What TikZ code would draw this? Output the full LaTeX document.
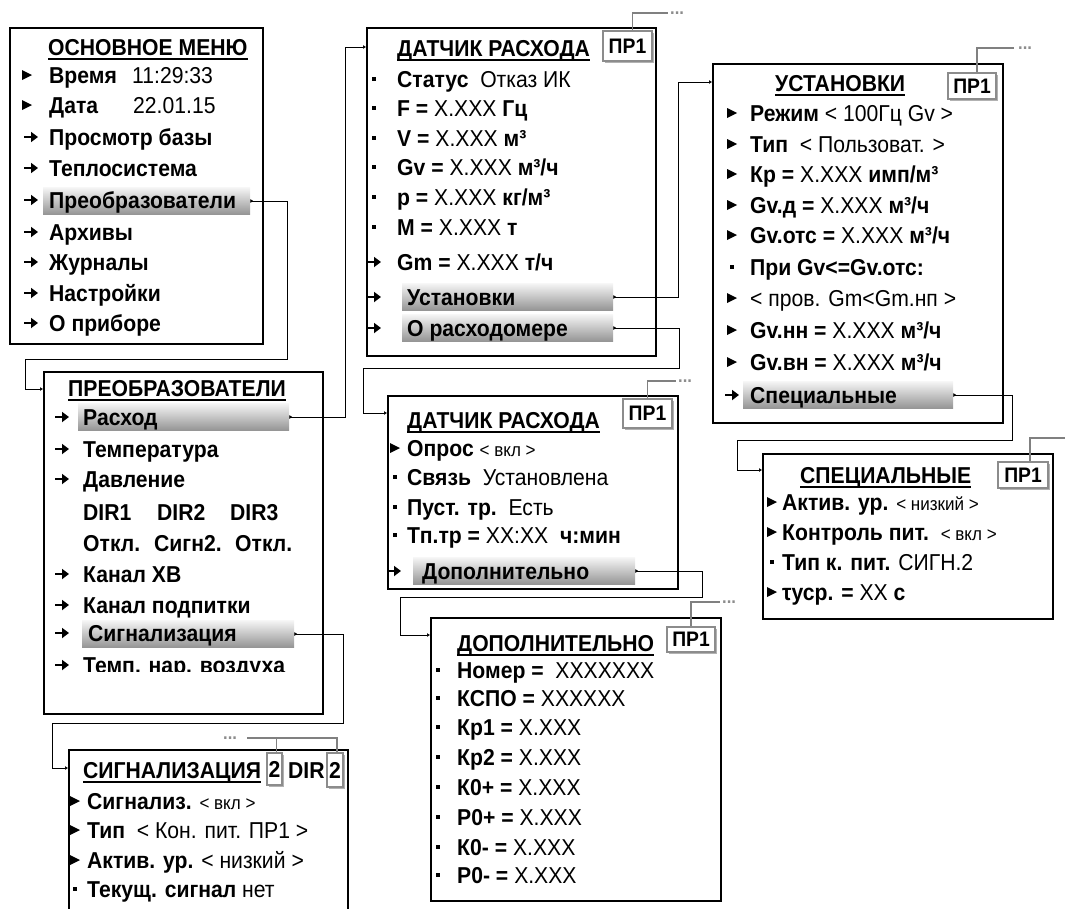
\documentclass[tikz,border=0pt]{standalone}
\usepackage{fontspec}
\setmainfont{Liberation Sans}[FakeStretch=0.92]
\usetikzlibrary{arrows.meta,positioning,shadows}

\newcommand{\sm}[1]{{\fontsize{18.5}{22}\selectfont #1}}
\newcommand{\ul}[1]{\leavevmode\setbox0\hbox{#1}\dp0=0pt\vtop{\box0\kern2.8pt\hrule height 1.6pt}}

\begin{document}
\begin{tikzpicture}[x=1pt,y=-1pt,
  every node/.style={font=\fontsize{23}{27}\selectfont},
  row/.style={anchor=base west,inner sep=0,yshift=-8.2pt},
  ttl/.style={row,font=\fontsize{23}{27}\selectfont\bfseries},
  box/.style={draw,line width=1.7pt,anchor=north west,inner sep=0},
  bar/.style={anchor=west,inner sep=0,minimum height=27pt,top color=black!4,bottom color=black!42},
  tag/.style={draw=black!45,fill=white,line width=1.2pt,inner sep=0,
    font=\fontsize{21}{21}\selectfont\bfseries,
    drop shadow={shadow xshift=2pt,shadow yshift=-2pt,fill=black!30,opacity=1}},
  dots/.style={anchor=west,inner sep=0,text=black!45,font=\fontsize{18}{18}\selectfont\bfseries},
  link/.style={line width=0.9pt,{Latex[reversed,length=3pt,width=4pt]}-{Latex[length=3pt,width=4pt]}},
  tagline/.style={draw=black!50,line width=1.2pt}]
 \useasboundingbox (0,0) rectangle (1065,908);
 \clip (0,0) rectangle (1065,908);

 % markers
 \foreach \x/\y in {27/75,27/105,732/113,732/144,732/174,732/205,732/235,732/298,
   732/330,732/362,395/448,772/502,772/532,772/592,75/801,75/830,75/860}
   {\fill (\x-5,\y-5) -- (\x+5,\y) -- (\x-5,\y+5) -- cycle;}
 \foreach \x/\y in {31/137,31/168,31/200,31/232,31/262,31/293,31/323,62/417,62/449,
   62/479,62/574,62/605,62/633,62/665,374/262,374/297,374/328,732/395,394/571}
   {\draw[line width=2.2pt,-{Triangle[length=7pt,width=10pt]}] (\x-7,\y) -- (\x+7,\y);}
 \foreach \x/\y in {374/79,374/108,374/138,374/167,374/197,374/227,732/267,395/477,
   395/507,395/535,772/562,438/670,438/698,438/727,438/757,438/787,438/817,438/847,
   438/875,75/889}
   {\fill (\x-1.9,\y-1.9) rectangle (\x+1.9,\y+1.9);}

 % main menu
 \node[box,line width=2.4pt,minimum width=253pt,minimum height=316pt] (osn) at (9,27) {};
 \node[ttl] (osn-t) at (48,47) {\ul{ОСНОВНОЕ МЕНЮ}};
 \node[bar,minimum width=207pt] (b-pre) at (43,201) {};
 \node[row] (osn-1) at (49,75) {\makebox[83pt][l]{\textbf{Время}}11:29:33};
 \node[row] (osn-2) at (49,105) {\makebox[84pt][l]{\textbf{Дата}}22.01.15};
 \node[row] (osn-3) at (49,137) {\textbf{Просмотр базы}};
 \node[row] (osn-4) at (49,168) {\textbf{Теплосистема}};
 \node[row] (osn-5) at (49,200) {\textbf{Преобразователи}};
 \node[row] (osn-6) at (49,232) {\textbf{Архивы}};
 \node[row] (osn-7) at (49,262) {\textbf{Журналы}};
 \node[row] (osn-8) at (49,293) {\textbf{Настройки}};
 \node[row] (osn-9) at (49,323) {\textbf{О приборе}};

 % converters
 \node[box,minimum width=279pt,minimum height=342pt] (prb) at (43,371) {};
 \node[ttl] (prb-t) at (68,388) {\ul{ПРЕОБРАЗОВАТЕЛИ}};
 \node[bar,minimum width=211pt] (b-rash) at (78,417) {};
 \node[bar,minimum width=212pt] (b-sig) at (82,634) {};
 \node[row] (prb-1) at (83,417) {\textbf{Расход}};
 \node[row] (prb-2) at (83,449) {\textbf{Температура}};
 \node[row] (prb-3) at (83,479) {\textbf{Давление}};
 \node[row] (dir-1) at (83,512) {\textbf{DIR1}};
 \node[row] (dir-2) at (157,512) {\textbf{DIR2}};
 \node[row] (dir-3) at (230,512) {\textbf{DIR3}};
 \node[row] (st-1) at (83,543) {\textbf{Откл.}};
 \node[row] (st-2) at (154,543) {\textbf{Сигн2.}};
 \node[row] (st-3) at (235,543) {\textbf{Откл.}};
 \node[row] (prb-4) at (83,574) {\textbf{Канал ХВ}};
 \node[row] (prb-5) at (83,605) {\textbf{Канал подпитки}};
 \node[row] (prb-6) at (88,633) {\textbf{Сигнализация}};
 \begin{scope}
  \clip (43,640) rectangle (322,671.5);
  \node[row] (prb-7) at (83,665) {\textbf{Темп. нар. воздуха}};
 \end{scope}

 % flow sensor
 \node[box,minimum width=289pt,minimum height=328pt] (dat1) at (366,27) {};
 \node[ttl] (dat1-t) at (397,48) {\ul{ДАТЧИК РАСХОДА}};
 \node[tag,minimum width=49pt,minimum height=30pt] (t3) at (627.5,46) {ПР1};
 \node[bar,minimum width=211pt] (b-ust) at (402,297) {};
 \node[bar,minimum width=211pt] (b-ras) at (402,328) {};
 \node[row] (dat1-1) at (397,79) {\textbf{Статус}\ \ Отказ ИК};
 \node[row] (dat1-2) at (397,108) {\textbf{F =} X.XXX \textbf{Гц}};
 \node[row] (dat1-3) at (397,138) {\textbf{V =} X.XXX \textbf{м³}};
 \node[row] (dat1-4) at (397,167) {\textbf{Gv =} X.XXX \textbf{м³/ч}};
 \node[row] (dat1-5) at (397,197) {\textbf{р =} X.XXX \textbf{кг/м³}};
 \node[row] (dat1-6) at (397,227) {\textbf{M =} X.XXX \textbf{т}};
 \node[row] (dat1-7) at (397,262) {\textbf{Gm =} X.XXX \textbf{т/ч}};
 \node[row] (dat1-8) at (407,297) {\textbf{Установки}};
 \node[row] (dat1-9) at (407,328) {\textbf{О расходомере}};

 % settings
 \node[box,minimum width=290pt,minimum height=359pt] (ust) at (712,63) {};
 \node[ttl] (ust-t) at (775,83) {\ul{УСТАНОВКИ}};
 \node[tag,minimum width=48pt,minimum height=26pt] (t4) at (972,86) {ПР1};
 \node[bar,minimum width=210pt] (b-spec) at (743,395) {};
 \node[row] (ust-1) at (750,113) {\textbf{Режим} < 100Гц Gv >};
 \node[row] (ust-2) at (750,144) {\textbf{Тип}\ \ < Пользоват. >};
 \node[row] (ust-3) at (750,174) {\textbf{Кр =} X.XXX \textbf{имп/м³}};
 \node[row] (ust-4) at (750,205) {\textbf{Gv.д =} X.XXX \textbf{м³/ч}};
 \node[row] (ust-5) at (750,235) {\textbf{Gv.отс =} X.XXX \textbf{м³/ч}};
 \node[row] (ust-6) at (750,267) {\textbf{При Gv<=Gv.отс:}};
 \node[row] (ust-7) at (750,298) {< пров. Gm<Gm.нп >};
 \node[row] (ust-8) at (750,330) {\textbf{Gv.нн =} X.XXX \textbf{м³/ч}};
 \node[row] (ust-9) at (750,362) {\textbf{Gv.вн =} X.XXX \textbf{м³/ч}};
 \node[row] (ust-10) at (750,395) {\textbf{Специальные}};

 % flow sensor, second page
 \node[box,minimum width=290pt,minimum height=193pt] (dat2) at (387,395) {};
 \node[ttl] (dat2-t) at (407,420) {\ul{ДАТЧИК РАСХОДА}};
 \node[tag,minimum width=49pt,minimum height=29pt] (t5) at (647.5,413.5) {ПР1};
 \node[bar,minimum width=222pt] (b-dop) at (413,571) {};
 \node[row] (dat2-1) at (407,448) {\textbf{Опрос} \sm{< вкл >}};
 \node[row] (dat2-2) at (407,477) {\textbf{Связь}\ \ Установлена};
 \node[row] (dat2-3) at (407,507) {\textbf{Пуст. тр.}\ \ Есть};
 \node[row] (dat2-4) at (407,535) {\textbf{Тп.тр =} XX:XX\ \ \textbf{ч:мин}};
 \node[row] (dat2-5) at (422,571) {\textbf{Дополнительно}};

 % special
 \node[box,minimum width=290pt,minimum height=165pt] (spec) at (762,453) {};
 \node[ttl] (spec-t) at (800,475) {\ul{СПЕЦИАЛЬНЫЕ}};
 \node[tag,minimum width=50pt,minimum height=26pt] (t6) at (1023,475) {ПР1};
 \node[row] (spec-1) at (782,502) {\textbf{Актив. ур.} \sm{< низкий >}};
 \node[row] (spec-2) at (782,532) {\textbf{Контроль пит.}\ \ \sm{< вкл >}};
 \node[row] (spec-3) at (782,562) {\textbf{Тип к. пит.} СИГН.2};
 \node[row] (spec-4) at (782,592) {\textbf{τуср. =} XX \textbf{с}};

 % additional
 \node[box,minimum width=290pt,minimum height=283pt] (dop) at (430,617) {};
 \node[ttl] (dop-t) at (457,643) {\ul{ДОПОЛНИТЕЛЬНО}};
 \node[tag,minimum width=48pt,minimum height=25pt] (t7) at (691,639.5) {ПР1};
 \node[row] (dop-1) at (457,670) {\textbf{Номер =}\ \ XXXXXXX};
 \node[row] (dop-2) at (457,698) {\textbf{КСПО =} XXXXXX};
 \node[row] (dop-3) at (457,727) {\textbf{Кр1 =} X.XXX};
 \node[row] (dop-4) at (457,757) {\textbf{Кр2 =} X.XXX};
 \node[row] (dop-5) at (457,787) {\textbf{К0+ =} X.XXX};
 \node[row] (dop-6) at (457,817) {\textbf{Р0+ =} X.XXX};
 \node[row] (dop-7) at (457,847) {\textbf{К0- =} X.XXX};
 \node[row] (dop-8) at (457,875) {\textbf{Р0- =} X.XXX};

 % alarm
 \node[box,minimum width=279pt,minimum height=220pt] (sig) at (68,749) {};
 \node[ttl] (sig-t) at (83,770) {\ul{СИГНАЛИЗАЦИЯ}};
 \node[tag,font=\fontsize{23}{23}\selectfont\bfseries,minimum width=15pt,minimum height=32pt] (t8a) at (274.5,769) {2};
 \node[ttl] (sig-dir) at (288,770) {DIR};
 \node[tag,font=\fontsize{23}{23}\selectfont\bfseries,minimum width=16pt,minimum height=34pt] (t8b) at (335,770) {2};
 \node[row] (sig-1) at (87,801) {\textbf{Сигнализ.} \sm{< вкл >}};
 \node[row] (sig-2) at (87,830) {\textbf{Тип}\ \ < Кон. пит. ПР1 >};
 \node[row] (sig-3) at (87,860) {\textbf{Актив. ур.} < низкий >};
 \node[row] (sig-4) at (87,889) {\textbf{Текущ. сигнал} нет};

 % tag leaders
 \node[dots] (d3) at (670,13) {...};
 \node[dots] (d4) at (1018,48) {...};
 \node[dots] (d5) at (678,381) {...};
 \node[dots] (d7) at (722,602) {...};
 \node[dots] (d8) at (223,738) {...};
 \coordinate (e6) at (1065,438);
 \coordinate (c8) at ([xshift=2pt]t8a.north);
 \draw[tagline] ([xshift=5pt]t3.north) |- ([xshift=-2pt]d3.west);
 \draw[tagline] ([xshift=5pt]t4.north) |- ([xshift=-4pt]d4.west);
 \draw[tagline] (t5.north) |- ([xshift=-2pt]d5.west);
 \draw[tagline] ([xshift=7pt]t6.north) |- (e6);
 \draw[tagline] (t7.north) |- ([xshift=-2pt]d7.west);
 \draw[tagline] ([xshift=2pt]t8b.north) |- ([xshift=10pt]d8.east);
 \draw[tagline] (c8) -- (c8 |- d8.east);

 % links
 \coordinate (in-prb) at (43,389);
 \coordinate (in-dat1) at (366,47);
 \coordinate (in-sig) at (68,768);
 \coordinate (in-ust) at (712,82);
 \coordinate (in-dat2) at (387,413);
 \coordinate (in-spec) at (762,470);
 \coordinate (in-dop) at (430,635);
 \draw[link] (b-pre.east) -| (287,359) -| (25,389) -- (in-prb);
 \draw[link] (b-rash.east) -| (345,47) -- (in-dat1);
 \draw[link] (b-sig.east) -| (343,723) -| (52,768) -- (in-sig);
 \draw[link] (b-ust.east) -| (678,82) -- (in-ust);
 \draw[link] (b-ras.east) -| (679,368) -| (363,413) -- (in-dat2);
 \draw[link] (b-spec.east) -| (1012,440) -| (737,470) -- (in-spec);
 \draw[link] (b-dop.east) -| (702,597) -| (400,635) -- (in-dop);
\end{tikzpicture}
\end{document}
